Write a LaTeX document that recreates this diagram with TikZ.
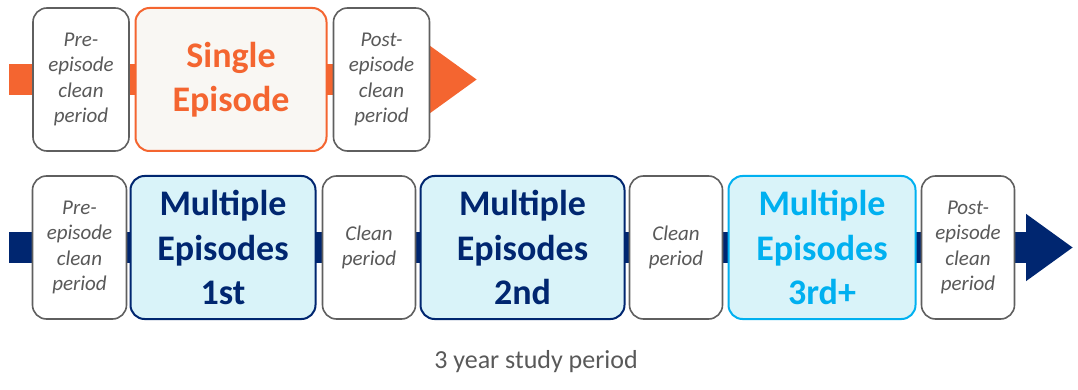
\documentclass[tikz,border=0pt]{standalone}
\usepackage{fontspec}
\setmainfont{Carlito}
\usetikzlibrary{arrows.meta}
\definecolor{orng}{RGB}{244,101,48}
\definecolor{cream}{RGB}{249,247,243}
\definecolor{navy}{RGB}{0,38,112}
\definecolor{lblue}{RGB}{217,243,249}
\definecolor{cyanb}{RGB}{0,176,240}
\definecolor{boxgray}{RGB}{95,95,95}
\definecolor{txtgray}{RGB}{89,89,89}
\begin{document}
\begin{tikzpicture}[x=1pt,y=-1pt,
  smallbox/.style={draw=boxgray, line width=1.6pt, fill=white, rounded corners=14pt,
    align=center, text=txtgray, inner sep=0pt,
    font=\fontsize{21}{25.5}\selectfont\itshape},
  bigbox/.style={line width=2pt, rounded corners=14pt, align=center, inner sep=0pt,
    font=\fontsize{36}{44.5}\selectfont\bfseries},
  shaft/.style={line width=31pt, -{Triangle[length=47pt,width=64pt]}},
  caption/.style={text=txtgray, font=\fontsize{26}{30}\selectfont}
]
\useasboundingbox (0,0) rectangle (1078,390);

% top row
\coordinate (ts) at (9,79.5);
\coordinate (te) at (477,79.5);
\draw[shaft, orng] (ts) -- (te);
\node[smallbox, minimum width=96pt, minimum height=143pt] (tpre) at (81,79.5)
  {Pre-\\episode\\clean\\period};
\node[bigbox, draw=orng, fill=cream, text=orng, minimum width=191pt, minimum height=143pt]
  (tsingle) at (231,79.5) {Single\\Episode};
\node[smallbox, minimum width=96pt, minimum height=143pt] (tpost) at (381.5,79.5)
  {Post-\\episode\\clean\\period};

% bottom row
\coordinate (bs) at (9,247.5);
\coordinate (be) at (1073,247.5);
\draw[shaft, navy] (bs) -- (be);
\node[smallbox, minimum width=94pt, minimum height=143pt] (bpre) at (79.5,247.5)
  {Pre-\\episode\\clean\\period};
\node[bigbox, draw=navy, fill=lblue, text=navy, minimum width=185pt, minimum height=143pt]
  (m1) at (223,247.5) {Multiple\\Episodes\\1st};
\node[smallbox, minimum width=93pt, minimum height=143pt] (c1) at (369,247.5)
  {Clean\\period};
\node[bigbox, draw=navy, fill=lblue, text=navy, minimum width=204pt, minimum height=143pt]
  (m2) at (522.5,247.5) {Multiple\\Episodes\\2nd};
\node[smallbox, minimum width=93pt, minimum height=143pt] (c2) at (676,247.5)
  {Clean\\period};
\node[bigbox, draw=cyanb, fill=lblue, text=cyanb, minimum width=187pt, minimum height=143pt]
  (m3) at (822,247.5) {Multiple\\Episodes\\3rd+};
\node[smallbox, minimum width=93pt, minimum height=143pt] (bpost) at (968,247.5)
  {Post-\\episode\\clean\\period};

\node[caption] (cap) at (536,362) {3 year study period};
\end{tikzpicture}
\end{document}
